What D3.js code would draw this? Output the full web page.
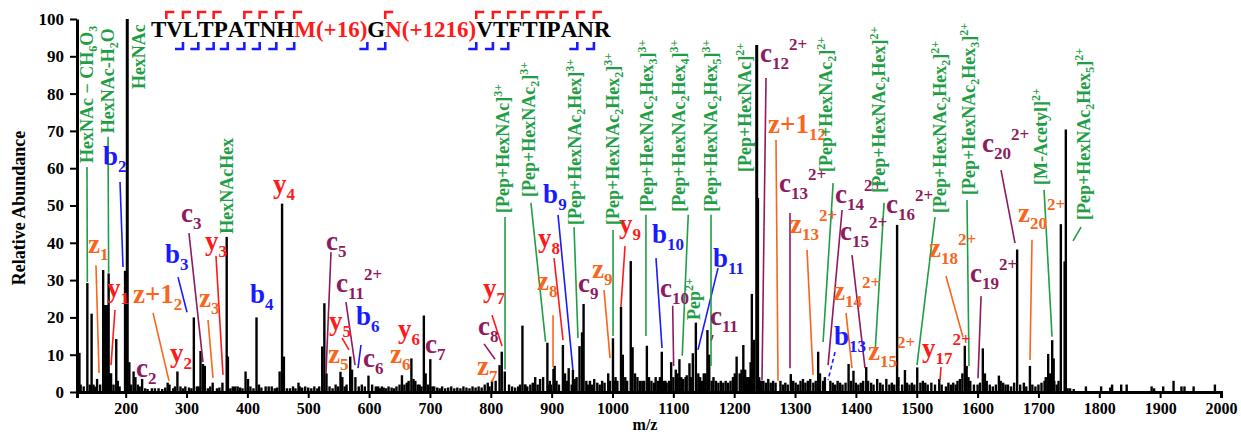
<!DOCTYPE html>
<html>
<head>
<meta charset="utf-8">
<script src="https://cdn.jsdelivr.net/npm/d3@7"></script>
<style>
  body { margin: 0; background: #fff; }
  svg text { font-family: "Liberation Serif", "Times New Roman", serif; font-weight: bold; }
</style>
</head>
<body>
<svg id="chart" width="1241" height="435"></svg>
<script>
// ---- data ----
const peakMz = [122,124,137,141,144,149,153,158,163,165,167,169,172,174,176,184.5,187,199,202.6,206,213,216,220,227,243,254,269,272,285,290,298,312,317,323,327,330,343,359,366,368,380,384,397,401,415,419,430,440,453,457,460,465,484,486,505,515,523,526.5,530,553,556,569,572,577.5,599,611,621,628,654,658,669.5,676,680,690,693,700.6,704,
  802,814.4,818,823,852,857,873,881,886,893,896,903,905,918.5,922,928,935,945.8,950,952.5,957,970,993,1000.8,1004,1014,1017,1030,1033,1045,1049,1056.5,1059,1071,1081,1087,1096.4,1100,1104,1110,1116,1120,1126.5,1132,1137,1141,1150,1156,1159,1166,
  1204,1209,1215,1218,1224,1229,1232.6,1237,1239,1245,1276,1293,1313,1338,1341,1346,1388,1396,1417,1420,1435,1450,1467.7,1470,1480.6,1500.8,1537,1571,1575,1579,1582,1585,1608.6,1612,1615,1635,1665,1686,1716,1719,1722.6,1725,1736.8,1743,1745];
const peakInt = [8,10.5,29.2,2,21,1.5,3.5,2,32.7,23.3,23.3,23.3,31.8,5,5,14.2,3,32.5,100,8,5.5,4,2,3.5,1,1,2.5,2,5.5,1.5,1.5,20,1.5,11,7.5,7,2.5,2.5,41.6,9.5,1.5,1.5,5.5,3.5,20,2,1.5,1.5,5.5,50.5,9.5,1,2.5,1.5,1,1,12.2,23.8,5,5.4,4,9.5,6,4,4.4,1.5,1.5,1,4.5,2,9,3,2,20.5,5,8.8,1.5,
  3,7.2,10.8,5.5,17.8,2,4,3.5,4,13.2,2,6.2,7,12.6,5,6.4,5.9,12.3,16,23.6,3,3.5,5,14.4,3,22.9,10,35.1,12,3,3,12.4,3,4,10.8,3,8,4,6,8.8,3.5,4,7.7,10.4,18.6,5,5,16.6,10,4,
  9.5,5,12.6,6,4,26.3,14,93,52,3,3,4.8,3.5,10.8,5,3,7.5,5.7,6.7,3,3.5,3.5,44.8,4,5.9,6.6,3.5,3.5,5,12.4,7,4,11.7,5,3,4.4,38.2,7,10.2,5,13.9,9,45,35,70.4];

// low-level baseline peaks
const noiseMz = [126,131,147,151,180,190,209,223,232,236,248,260,265,278,281,294,304,308,320,335,339,350,354,372,376,388,392,405,410,423,435,445,449,470,475,479,490,495,500,510,518,
  535,540,545,549,560,563,583,588,593,605,615,618,624,632,637,641,645,650,662,665,673,683,686,697,707,712,716,720,725,730,735,740,745,750,755,760,765,770,775,780,785,790,795,798,808,
  830,835,840,845,848,856,860,865,869,877,897,899,908,912,925,933,938,941,960,963,966,975,979,983,987,996,1005,1008,1021,1024,1037,1041,1052,1060,1064,1068,1075,1078,1085,1089,1093,1107,1113,1122,1129,1144,1147,1153,1163,1170,1174,1178,1182,1186,1190,1194,1198,1201,1212,1221,1227,
  1241,1244,1248,1252,1256,1260,1264,1268,1280,1284,1288,1297,1301,1305,1309,1317,1321,1325,1330,1334,1349,1358,1362,1366,1370,1374,1378,1383,1392,1400,1404,1408,1412,1425,1429,1440,1444,1455,1459,1463,1476,1484,1488,1492,1496,
  1506,1510,1514,1518,1524,1530,1541,1548,1552,1556,1560,1564,1567,1588,1594,1600,1604,1620,1625,1630,1638,1642,1646,1650,1655,1660,1670,1676,1680,1690,1695,1700,1705,1710,1712,1726,1730,1733,1748,1752,1758,
  1778,1803,1818,1821,1836,1845,1886,1890,1905,1922,1935,1940,1955,1990];
const noiseInt = [2,1.5,2,1,2,1.5,2,1.5,1,0.8,1,0.8,1.2,1,1.5,1,1.2,1,1.5,1,1.5,1,1.2,1,1.5,1.2,1,1.5,1,1.2,1.5,1,1.2,1,1.5,1,1.2,1.5,1.2,1.5,1.5,
  1.5,1,2,1.5,1.5,2,1.5,2,1.5,2,1.5,1,1.2,1.5,1.2,1,1.5,2,2.5,3,3.5,2,1.5,2,1.5,1.2,1,1.5,1,1.2,1.5,1,1.2,1,1.5,1.2,1,1.5,1.2,1.5,1.2,2,2.5,1.5,3,
  2,1.5,1.2,1.5,2,2,1.5,2,2.5,2,3,2,3,2,3,2,3.5,4,2,3,2,2.5,2,3,2.5,3,4,3,4,3,5,4,3,4,3,2.5,3,4,3,2.5,3,5,4,4.5,4,4,3,5,3,3,2.5,3,2.5,3,2.5,3,4,5,6,4,8,
  4,3,3,2.5,3.5,2.5,3,2.5,2,2.5,2,3,2.5,2,3,2.5,3,3.5,2.5,3,4,3,2.5,2,3,2.5,2,2.5,3,2.5,2,2.5,3,2.5,2,2.5,2,2,2.5,2,2,2.5,2,2.5,2,
  2.5,3,2.5,2,2.5,2,2,1.5,2.5,2,2.5,2,3,3,2,2,2.5,2,1.5,2,3,2.5,2,2,1.5,2.5,2,2.5,1.5,2,1.5,2,2.5,3,4,3,2,3,1,1,0.8,
  1.5,1.5,1.2,2,2,2,1.5,1,1.5,3,1.5,1.5,1.5,2];

const xTicks = d3.range(200, 2001, 100);
const yTicks = d3.range(0, 101, 10);

// peptide sequence and the fragment sites
const residues = ["T","V","L","T","P","A","T","N","H","M(+16)","G","N(+1216)","V","T","F","T","I","P","A","N","R"];
const modified = ["M(+16)","N(+1216)"];
const cSites = [1,2,3,4,6,7,8,9,11,12,13,14,15,16,17,18,19,20];
const zSites = [2,3,4,5,6,7,8,9,10,11,12,13,14,19,20];

// fragment labels: type, text, label m/z, label abundance, leader line (m/z, ab -> m/z, ab)
const ionLabels = [
  ["b","b_{2}",162.7,60.9,190.7,56.3,195.6,33.5],
  ["b","b_{3}",264.6,34.6,286,30.8,300.8,21.4],
  ["b","b_{4}",404.3,23.9],
  ["b","b_{6}",578.5,18,586.7,12.6,581.8,6.4],
  ["b","b_{9}",886,50.7,910.5,47.5,935,5.9],
  ["b","b_{10}",1065,40,1071.5,35.9,1081.4,11.8],
  ["b","b_{11}",1165,33.5,1173.4,33.2,1140.5,11.3],
  ["b","b_{13}",1364,12.6,1365.7,10.7,1354.3,3.2,"dash"],
  ["c","c_{2}",217,4],
  ["c","c_{3}",290.9,45.6,304,42.6,327,8],
  ["c","c_{5}",529.2,38.1,537.4,37.5,529.2,5.1],
  ["c","c_{11}^{2+}",545.6,26.8,562,24.1,576.9,7.2],
  ["c","c_{6}",590,6.7],
  ["c","c_{7}",691.9,10.5],
  ["c","c_{8}",779,15.3,788.9,12.9,807,8.8],
  ["c","c_{9}",943.3,26.8],
  ["c","c_{10}",1078,25.5,1098.9,23.1,1100.5,7],
  ["c","c_{11}",1160.3,18,1165.2,15.3,1162,13.7],
  ["c","c_{12}^{2+}",1242.4,88.5,1252.3,84.2,1245.7,3.2],
  ["c","c_{13}^{2+}",1273.7,53.6,1291.7,48,1291.7,6.4],
  ["c","c_{14}^{2+}",1365.8,50.7,1377.3,48.8,1354.3,7.2],
  ["c","c_{15}^{2+}",1373.9,40.8,1393.6,36.7,1415,6.4],
  ["c","c_{16}^{2+}",1449.6,48],
  ["c","c_{19}^{2+}",1587.6,29.5,1605.7,25.7,1600.7,3.7],
  ["c","c_{20}^{2+}",1607.3,64.3,1638.5,59.5,1661.5,39.9],
  ["y","y_{1}",169.3,25.5,182.4,22,175.9,7.2],
  ["y","y_{2}",272.8,8],
  ["y","y_{3}",330.4,38.1,348.4,36.5,359.9,4.6],
  ["y","y_{4}",442.1,53.4],
  ["y","y_{5}",534.1,16.6,555.5,14.5,567,11.3],
  ["y","y_{6}",647.5,14.5],
  ["y","y_{7}",787.2,25.5,802,20.6,818.5,12.3],
  ["y","y_{8}",877.6,38.9,904,35.9,918.7,13.9],
  ["y","y_{9}",1010.7,42.6,1020.6,39.1,1014,23],
  ["y","y_{17}^{2+}",1508.7,9.4,1539.9,6.7,1538.3,3.2],
  ["z","z_{1}",138,37.3,151.2,34,156.2,5.1],
  ["z","z+1_{2}",212,23.9,244.9,21.2,271.2,3],
  ["z","z_{3}",320.5,22.8,335.3,19.3,343.5,3.8],
  ["z","z_{5}",532.5,7.8],
  ["z","z_{6}",634.4,7.8],
  ["z","z_{7}",777.4,4.6],
  ["z","z_{8}",876,27.3,902.3,20.6,902.3,6.7],
  ["z","z_{9}",966.4,30.6,986.1,27.3,996,9.1],
  ["z","z+1_{12}",1255.6,69.4,1268.7,67.6,1272,3],
  ["z","z_{13}^{2+}",1291.7,42.6,1319.7,38.1,1329.6,4.6],
  ["z","z_{14}^{2+}",1362.4,24.7,1383.8,21.2,1393.6,6.4],
  ["z","z_{15}^{2+}",1420,8.6],
  ["z","z_{18}^{2+}",1520.2,36.2,1548,31.1,1576,14.7],
  ["z","z_{20}^{2+}",1666.4,45.6,1689.4,40.8,1686.1,8.6]
];

// glycan / precursor labels (vertical): text, baseline m/z, start abundance, leader line
const glycoLabels = [
  ["HexNAc \u2212 CH_{6}O_{3}",146.3,61.4,136.4,60.3,137,29.5],
  ["HexNAc-H_{2}O",180.8,69.4,171,68.4,172,32],
  ["HexNAc",231.7,81.2],
  ["HexNAcHex",376.4,42.4],
  ["[Pep+HexNAc]^{3+}",830,48,823.4,46.9,823.4,6],
  ["[Pep+HexNAc_{2}]^{3+}",872.7,52.3,866,50.7,890,13.5],
  ["[Pep+HexNAc_{2}Hex]^{3+}",948.3,44.8,936.8,44.2,943.3,14.5],
  ["[Pep+HexNAc_{2}Hex_{2}]^{3+}",1010.7,44.8,1000.9,43.4,1000.9,15],
  ["[Pep+HexNAc_{2}Hex_{3}]^{3+}",1066.6,48.3,1055,47.5,1055,15],
  ["[Pep+HexNAc_{2}Hex_{4}]^{3+}",1119.1,48.3,1124.5,47.5,1114.6,9.7],
  ["[Pep+HexNAc_{2}Hex_{5}]^{3+}",1171.8,48.3,1161.9,47.5,1161.9,7],
  ["Pep^{2+}",1143.8,19.3],
  ["[Pep+HexNAc]^{2+}",1227.7,59],
  ["[Pep+HexNAc_{2}]^{2+}",1360.8,59,1362.6,56,1346.1,13.4],
  ["[Pep+HexNAc_{2}Hex]^{2+}",1447.9,53.4,1446.3,50.7,1431.5,10.5],
  ["[Pep+HexNAc_{2}Hex_{2}]^{2+}",1548,48,1530,46.9,1500.4,7.2],
  ["[Pep+HexNAc_{2}Hex_{3}]^{2+}",1595.8,52.8,1582.6,51.5,1585.9,7],
  ["[M-Acetyl]^{2+}",1714,55.5,1709.2,54.2,1722.3,14.8],
  ["[Pep+HexNAc_{2}Hex_{5}]^{2+}",1784.8,46.1,1770,44.2,1756.8,40.5]
];

const ionColor = { b: "#1a1aff", c: "#8e1b5e", y: "#ff1a1a", z: "#f7661c", g: "#1f9e45" };

// ---- drawing ----
const svg = d3.select("#chart");
const x = d3.scaleLinear().domain([120, 2000]).range([77, 1221]);
const y = d3.scaleLinear().domain([0, 100]).range([392, 19]);

// noise + peaks
svg.append("g").selectAll("line")
  .data(d3.zip(noiseMz, noiseInt).concat(d3.zip(peakMz, peakInt)))
  .join("line")
    .attr("x1", d => x(d[0])).attr("x2", d => x(d[0]))
    .attr("y1", y(0)).attr("y2", d => y(d[1]))
    .attr("stroke", "#000")
    .attr("stroke-width", d => d[1] > 90 ? 3 : 2.4);

// axes
const xAxis = svg.append("g")
  .attr("transform", `translate(0,${y(0)})`)
  .call(d3.axisBottom(x).tickValues(xTicks).tickFormat(d3.format("d"))
    .tickSize(6).tickSizeOuter(6).tickPadding(5));
xAxis.select(".domain").attr("stroke-width", 3);
xAxis.selectAll(".tick line").attr("stroke-width", 2);
xAxis.selectAll("text").style("font-size", "16px").attr("fill", "#000");

const yAxis = svg.append("g")
  .attr("transform", `translate(${x(120)},0)`)
  .call(d3.axisLeft(y).tickValues(yTicks).tickSize(7).tickSizeOuter(0).tickPadding(6));
yAxis.select(".domain").attr("stroke-width", 3);
yAxis.selectAll(".tick line").attr("stroke-width", 2);
yAxis.selectAll("text").style("font-size", "17px").attr("fill", "#000");

svg.append("text")
  .attr("transform", "translate(25,208) rotate(-90)")
  .attr("text-anchor", "middle")
  .style("font-size", "18px")
  .text("Relative Abundance");

svg.append("text")
  .attr("x", 645).attr("y", 430)
  .attr("text-anchor", "middle")
  .style("font-size", "16px")
  .text("m/z");

// rich text helper: _{..} subscript, ^{..} superscript
function richParts(str) {
  const out = [];
  const re = /_\{([^}]*)\}|\^\{([^}]*)\}|([^_^]+)/g;
  let m;
  while ((m = re.exec(str))) {
    if (m[1] != null) out.push({ t: m[1], k: "sub" });
    else if (m[2] != null) out.push({ t: m[2], k: "sup" });
    else out.push({ t: m[3], k: "n" });
  }
  return out;
}
function addRich(sel, str, big, small, subDy, supDy) {
  let cur = 0;
  richParts(str).forEach(p => {
    const target = p.k === "sub" ? subDy : p.k === "sup" ? supDy : 0;
    sel.append("tspan")
      .attr("dy", target - cur)
      .style("font-size", (p.k === "n" ? big : small) + "px")
      .text(p.t);
    cur = target;
  });
}

const ann = svg.append("g");

// leader lines
ionLabels.filter(d => d.length > 4).forEach(d => {
  ann.append("line")
    .attr("x1", x(d[4])).attr("y1", y(d[5]))
    .attr("x2", x(d[6])).attr("y2", y(d[7]))
    .attr("stroke", ionColor[d[0]])
    .attr("stroke-width", 1.6)
    .attr("stroke-dasharray", d[8] === "dash" ? "4,3" : null);
});
glycoLabels.filter(d => d.length > 3).forEach(d => {
  ann.append("line")
    .attr("x1", x(d[3])).attr("y1", y(d[4]))
    .attr("x2", x(d[5])).attr("y2", y(d[6]))
    .attr("stroke", ionColor.g)
    .attr("stroke-width", 1.6);
});

ionLabels.forEach(d => {
  const t = ann.append("text")
    .attr("x", x(d[2])).attr("y", y(d[3]))
    .attr("fill", ionColor[d[0]]);
  addRich(t, d[1], 27, 17, 7, -12);
});

glycoLabels.forEach(d => {
  const t = ann.append("text")
    .attr("transform", `translate(${x(d[1])},${y(d[2])}) rotate(-90)`)
    .attr("fill", ionColor.g);
  addRich(t, d[0], 18, 12, 4, -7);
});

// peptide sequence with fragment brackets
const seq = svg.append("g").attr("transform", "translate(151,37)");
let pos = 0;
const edges = [];
residues.forEach(r => {
  const t = seq.append("text")
    .attr("x", pos)
    .style("font-size", "23px")
    .attr("fill", modified.includes(r) ? "#ff1a1a" : "#000")
    .text(r);
  pos += t.node().getComputedTextLength();
  edges.push(pos);
});
cSites.forEach(i => {
  const bx = edges[i - 1];
  seq.append("path")
    .attr("d", `M${bx},-18 V-25 H${bx + 8}`)
    .attr("fill", "none").attr("stroke", "#ff1a1a").attr("stroke-width", 2.6);
});
zSites.forEach(i => {
  const bx = edges[i - 1];
  seq.append("path")
    .attr("d", `M${bx - 8},12 H${bx} V5`)
    .attr("fill", "none").attr("stroke", "#1a1aff").attr("stroke-width", 2.6);
});
</script>
</body>
</html>
